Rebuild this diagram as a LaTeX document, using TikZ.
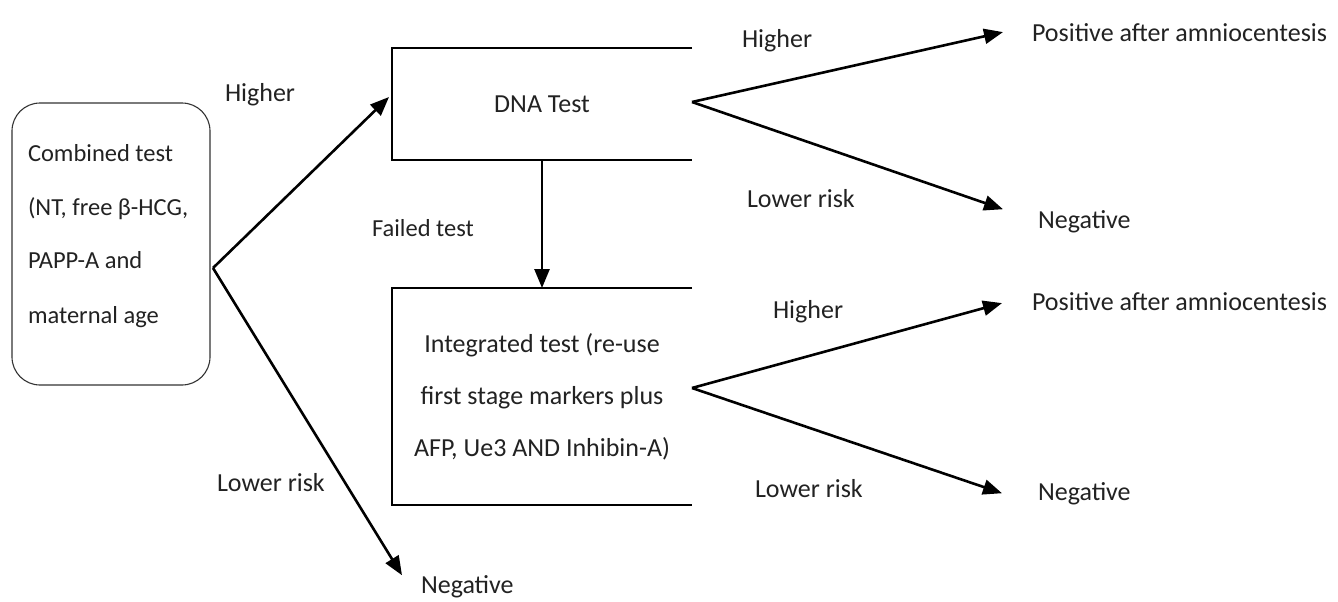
\documentclass[tikz,border=0pt]{standalone}
\usepackage{fontspec}
\setmainfont{Carlito}
\usetikzlibrary{arrows.meta}
\definecolor{txt}{HTML}{222222}
\begin{document}
\begin{tikzpicture}[x=1pt,y=-1pt,
  every node/.style={inner sep=0pt, outer sep=0pt, text=txt},
  lbl/.style={font=\fontsize{26}{30}\selectfont, anchor=base west},
  small/.style={font=\fontsize{24.5}{30}\selectfont, anchor=base west},
  conn/.style={line width=2.6pt, -{Triangle[length=19pt,width=15pt]}},
  boxline/.style={line width=1.8pt},
]
\fill[white] (0,0) rectangle (1338,602);
\useasboundingbox (0,0) rectangle (1338,602);

% combined test box
\node[draw=black!80, line width=1.1pt, rounded corners=28pt, minimum width=198pt, minimum height=282pt] (comb) at (111,244) {};
\node[small] (c1) at (28,161) {Combined test};
\node[small] (c2) at (28,215) {(NT, free β-HCG,};
\node[small] (c3) at (28,268) {PAPP-A and};
\node[small] (c4) at (28,323) {maternal age};
\coordinate (f1) at (213,268);

% DNA test box (open on the right)
\node[minimum width=300pt, minimum height=112pt, font=\fontsize{26}{30}\selectfont] (dna) at (542,104) {DNA Test};
\draw[boxline] (dna.north east) -- (dna.north west) -- (dna.south west) -- (dna.south east);

% integrated test box (open on the right)
\node[minimum width=300pt, minimum height=217pt, align=center, font=\fontsize{26}{52}\selectfont] (integ) at (542,396.5) {Integrated test (re-use\\first stage markers plus\\AFP, Ue3 AND Inhibin-A)};
\draw[boxline] (integ.north east) -- (integ.north west) -- (integ.south west) -- (integ.south east);

\draw[conn] (dna.south) -- (integ.north);
\node[small] (failed) at (372,236) {Failed test};

% from combined test
\node[lbl] (h0) at (225,101) {Higher};
\node[lbl] (l0) at (217,491) {Lower risk};
\node[lbl] (neg0) at (421,593) {Negative};
\draw[conn] (f1) -- ([shift={(-3,-7)}]dna.west);
\draw[conn] (f1) -- ([shift={(-19,-11)}]neg0.west);

% from DNA test
\node[lbl] (pos1) at (1032,42) {Positive after amniocentesis};
\node[lbl] (neg1) at (1038,228) {Negative};
\node[lbl] (h1) at (742,48) {Higher};
\node[lbl] (l1) at (747,207) {Lower risk};
\draw[conn] ([yshift=2pt]dna.east) -- ([shift={(-29,-1)}]pos1.west);
\draw[conn] ([yshift=2pt]dna.east) -- ([shift={(-35,-12)}]neg1.west);

% from integrated test
\node[lbl] (pos2) at (1032,310) {Positive after amniocentesis};
\node[lbl] (neg2) at (1038,500) {Negative};
\node[lbl] (h2) at (773,318) {Higher};
\node[lbl] (l2) at (755,497) {Lower risk};
\draw[conn] ([yshift=8.5pt]integ.east) -- ([shift={(-30,2)}]pos2.west);
\draw[conn] ([yshift=8.5pt]integ.east) -- ([shift={(-36,0)}]neg2.west);
\end{tikzpicture}
\end{document}
